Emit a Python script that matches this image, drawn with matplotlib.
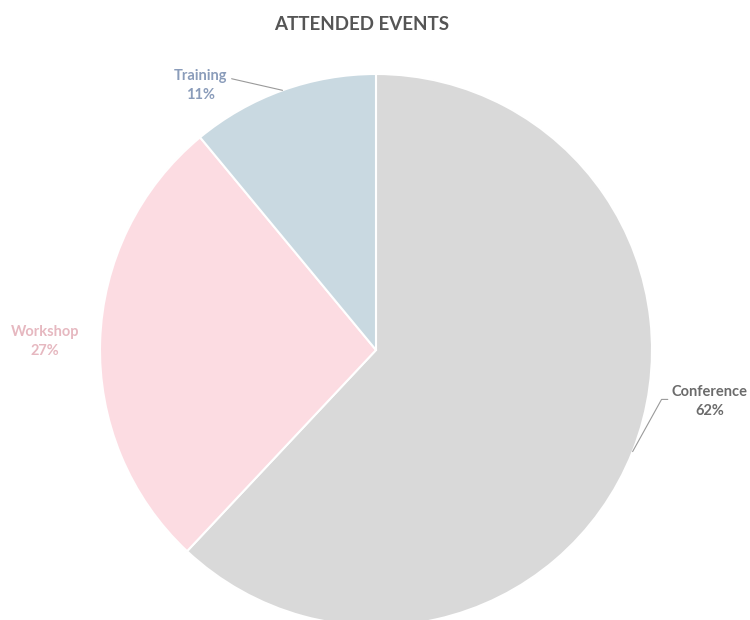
import matplotlib
matplotlib.use('Agg')
from matplotlib import pyplot as plt
import numpy as np

# data
labels = ['Conference', 'Workshop', 'Training']
values = [62, 27, 11]
slice_colors = ['#d9d9d9', '#fcdce2', '#c9d9e1']
label_colors = ['#6b6b6b', '#e6b8c0', '#8a9cba']
# label positions (data units, pie radius = 1)
label_xy = [(1.21, -0.185), (-1.20, 0.03), (-0.635, 0.96)]
show_line = [True, False, True]
line_style = ['angle,angleA=180,angleB=61,rad=0', 'arc3', 'arc3']
line_relpos = [(0, 0.55), (0.5, 0.5), (1, 0.72)]

plt.rcParams['font.family'] = ['Lato', 'DejaVu Sans']

fig = plt.figure(figsize=(7.5, 6.2), dpi=100)
ax = fig.add_axes([0, 0, 1, 1])

wedges, _ = ax.pie(values, colors=slice_colors, startangle=90, counterclock=False,
                   radius=1, center=(0, 0),
                   wedgeprops=dict(edgecolor='white', linewidth=1.5))

# pie() resets the limits, so set them afterwards
r_px = 276
cx, cy = 376, 350
ax.set_xlim(-cx / r_px, (750 - cx) / r_px)
ax.set_ylim(-(620 - cy) / r_px, cy / r_px)
ax.set_aspect('equal')
ax.axis('off')

total = sum(values)
for w, lab, val, col, xy, ln, cs, rp in zip(wedges, labels, values, label_colors,
                                            label_xy, show_line, line_style, line_relpos):
    ang = np.deg2rad((w.theta1 + w.theta2) / 2)
    px, py = np.cos(ang), np.sin(ang)
    arrow = None
    if ln:
        arrow = dict(arrowstyle='-', color='#9a9a9a', lw=0.8, shrinkA=1, shrinkB=0,
                     connectionstyle=cs, relpos=rp)
    ax.annotate(f'{lab}\n{round(100 * val / total)}%', xy=(px, py), xytext=xy,
                ha='center', va='center', fontsize=10.5, fontweight='bold', color=col,
                linespacing=1.45, arrowprops=arrow)

fig.text(362 / 750, 1 - 25 / 620, 'ATTENDED EVENTS', ha='center', va='center',
         fontsize=13.5, fontweight='bold', color='#555555')

fig.savefig('out.png', dpi=100)
